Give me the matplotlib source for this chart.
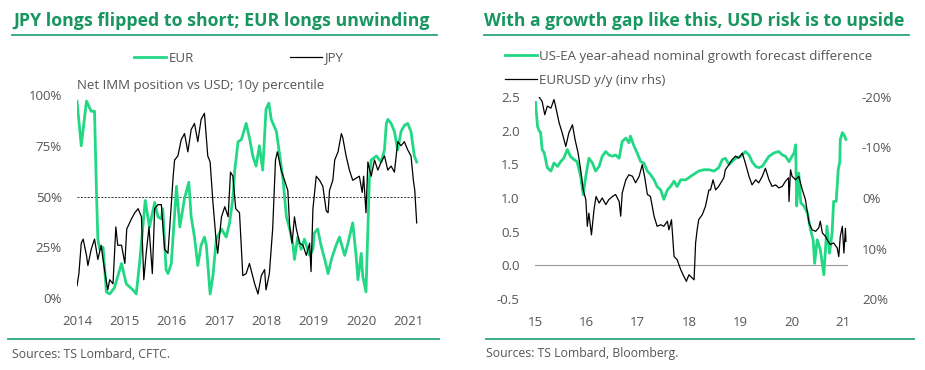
import numpy as np
import matplotlib
matplotlib.use("Agg")
import matplotlib.pyplot as plt
from matplotlib.lines import Line2D

# left panel: net IMM position vs USD, 10y percentile
eur_dates = [2014.00, 2014.09, 2014.20, 2014.30, 2014.37, 2014.41, 2014.44, 2014.48, 2014.55, 2014.62,
             2014.69, 2014.79, 2014.94, 2015.04, 2015.18, 2015.25, 2015.32, 2015.44, 2015.53, 2015.64,
             2015.71, 2015.78, 2015.81, 2015.88, 2015.92, 2015.99, 2016.10, 2016.17, 2016.27, 2016.36,
             2016.41, 2016.48, 2016.55, 2016.62, 2016.69, 2016.73, 2016.81, 2016.87, 2016.94, 2017.05,
             2017.15, 2017.22, 2017.29, 2017.33, 2017.40, 2017.47, 2017.57, 2017.64, 2017.71, 2017.78,
             2017.85, 2017.92, 2017.99, 2018.05, 2018.10, 2018.21, 2018.28, 2018.35, 2018.42, 2018.49,
             2018.56, 2018.59, 2018.66, 2018.73, 2018.80, 2018.91, 2018.98, 2019.01, 2019.08, 2019.15,
             2019.23, 2019.30, 2019.37, 2019.47, 2019.54, 2019.65, 2019.72, 2019.82, 2019.89, 2019.93,
             2020.00, 2020.03, 2020.10, 2020.14, 2020.17, 2020.21, 2020.32, 2020.42, 2020.49, 2020.53,
             2020.56, 2020.63, 2020.70, 2020.77, 2020.84, 2020.91, 2020.98, 2021.05, 2021.12, 2021.17]
eur_pct = [97, 75, 97, 92, 92, 53, 29, 24, 25, 3,
           2, 5, 17, 7, 4, 2, 17, 48, 35, 47,
           40, 39, 44, 14, 12, 17, 55, 35, 49, 57,
           40, 30, 16, 26, 30, 26, 2, 11, 29, 34,
           30, 37, 49, 63, 77, 78, 86, 79, 70, 65,
           75, 63, 93, 96, 88, 82, 70, 58, 40, 34,
           26, 19, 30, 24, 29, 21, 24, 32, 34, 26,
           19, 12, 19, 26, 30, 21, 27, 37, 21, 9,
           22, 11, 3, 34, 58, 68, 70, 67, 73, 86,
           88, 86, 82, 73, 82, 85, 86, 82, 70, 67]

jpy_dates = [2014.00, 2014.04, 2014.09, 2014.13, 2014.20, 2014.23, 2014.30, 2014.37, 2014.44, 2014.51,
             2014.55, 2014.60, 2014.65, 2014.69, 2014.76, 2014.82, 2014.86, 2014.94, 2015.01, 2015.05,
             2015.15, 2015.22, 2015.29, 2015.36, 2015.41, 2015.46, 2015.52, 2015.59, 2015.64, 2015.71,
             2015.78, 2015.85, 2015.92, 2015.97, 2016.03, 2016.06, 2016.13, 2016.20, 2016.27, 2016.34,
             2016.41, 2016.48, 2016.55, 2016.62, 2016.69, 2016.76, 2016.81, 2016.87, 2016.93, 2016.97,
             2017.05, 2017.12, 2017.19, 2017.24, 2017.29, 2017.35, 2017.43, 2017.50, 2017.57, 2017.64,
             2017.75, 2017.82, 2017.89, 2017.96, 2017.99, 2018.06, 2018.13, 2018.19, 2018.23, 2018.31,
             2018.38, 2018.45, 2018.49, 2018.54, 2018.59, 2018.63, 2018.70, 2018.77, 2018.84, 2018.91,
             2018.94, 2018.98, 2019.05, 2019.12, 2019.19, 2019.26, 2019.30, 2019.33, 2019.40, 2019.44,
             2019.51, 2019.58, 2019.61, 2019.68, 2019.75, 2019.82, 2019.89, 2019.96, 2020.02, 2020.05,
             2020.10, 2020.14, 2020.21, 2020.28, 2020.35, 2020.42, 2020.49, 2020.56, 2020.63, 2020.70,
             2020.77, 2020.84, 2020.91, 2020.98, 2021.05, 2021.10, 2021.13, 2021.17]
jpy_pct = [6, 12, 27, 29, 21, 16, 24, 29, 19, 26,
           19, 11, 4, 9, 7, 35, 26, 26, 17, 34,
           39, 42, 44, 40, 9, 22, 35, 12, 44, 46,
           46, 24, 22, 39, 60, 68, 70, 78, 81, 72,
           83, 86, 77, 88, 91, 70, 67, 47, 30, 22,
           40, 45, 40, 62, 60, 44, 42, 11, 12, 17,
           7, 2, 11, 14, 4, 12, 34, 68, 72, 63,
           58, 53, 35, 27, 40, 34, 27, 26, 21, 27,
           13, 44, 60, 58, 55, 43, 42, 53, 58, 68,
           72, 81, 79, 70, 63, 58, 59, 60, 52, 60,
           42, 67, 60, 68, 63, 67, 70, 63, 65, 62,
           77, 75, 77, 73, 70, 58, 53, 37]

# right panel: growth gap (lhs) and EURUSD y/y inverted (rhs)
gap_dates = [15.01, 15.05, 15.08, 15.11, 15.14, 15.18, 15.24, 15.31, 15.37, 15.44,
             15.50, 15.56, 15.63, 15.69, 15.76, 15.82, 15.89, 15.94, 15.99, 16.05,
             16.12, 16.18, 16.25, 16.31, 16.38, 16.44, 16.51, 16.57, 16.64, 16.70,
             16.77, 16.83, 16.86, 16.93, 16.99, 17.06, 17.12, 17.19, 17.25, 17.32,
             17.38, 17.45, 17.51, 17.58, 17.64, 17.71, 17.77, 17.84, 17.94, 18.03,
             18.13, 18.19, 18.29, 18.39, 18.49, 18.58, 18.65, 18.71, 18.78, 18.84,
             18.91, 19.01, 19.10, 19.17, 19.23, 19.30, 19.36, 19.43, 19.49, 19.56,
             19.66, 19.75, 19.82, 19.88, 19.95, 20.01, 20.05, 20.08, 20.10, 20.14,
             20.18, 20.24, 20.31, 20.37, 20.42, 20.45, 20.50, 20.56, 20.63, 20.66,
             20.69, 20.74, 20.79, 20.82, 20.87, 20.91, 20.94, 20.95, 20.99, 21.02,
             21.06]
gap_vals = [2.42, 2.06, 2.00, 1.97, 1.72, 1.67, 1.45, 1.40, 1.52, 1.47,
            1.54, 1.59, 1.72, 1.62, 1.57, 1.54, 1.32, 1.05, 1.32, 1.59,
            1.52, 1.40, 1.47, 1.62, 1.69, 1.64, 1.62, 1.64, 1.59, 1.84,
            1.89, 1.82, 1.92, 1.77, 1.67, 1.54, 1.52, 1.40, 1.35, 1.27,
            1.17, 1.12, 0.98, 1.12, 1.17, 1.25, 1.17, 1.27, 1.27, 1.32,
            1.37, 1.40, 1.42, 1.42, 1.40, 1.45, 1.57, 1.59, 1.50, 1.54,
            1.59, 1.62, 1.69, 1.64, 1.54, 1.47, 1.45, 1.47, 1.54, 1.62,
            1.67, 1.69, 1.64, 1.62, 1.54, 1.62, 1.67, 1.79, 0.88, 1.37,
            0.93, 0.88, 0.78, 0.53, 0.38, 0.03, 0.38, 0.23, -0.14, 0.23,
            0.58, 0.18, 0.48, 0.95, 0.95, 1.42, 1.54, 1.87, 1.97, 1.94,
            1.87]

fx_dates = [15.08, 15.14, 15.19, 15.24, 15.31, 15.37, 15.40, 15.47, 15.53, 15.60,
            15.66, 15.73, 15.78, 15.84, 15.89, 15.94, 15.99, 16.02, 16.05, 16.10,
            16.15, 16.19, 16.25, 16.31, 16.38, 16.44, 16.51, 16.57, 16.64, 16.67,
            16.70, 16.77, 16.83, 16.90, 16.96, 17.03, 17.09, 17.14, 17.19, 17.25,
            17.32, 17.38, 17.45, 17.51, 17.58, 17.61, 17.66, 17.71, 17.77, 17.84,
            17.90, 17.95, 18.00, 18.06, 18.10, 18.13, 18.16, 18.19, 18.26, 18.32,
            18.39, 18.42, 18.47, 18.52, 18.58, 18.68, 18.71, 18.78, 18.84, 18.91,
            18.97, 19.04, 19.10, 19.17, 19.23, 19.30, 19.36, 19.43, 19.49, 19.56,
            19.62, 19.69, 19.75, 19.82, 19.88, 19.94, 19.95, 19.98, 20.01, 20.08,
            20.14, 20.21, 20.27, 20.34, 20.40, 20.47, 20.53, 20.56, 20.60, 20.66,
            20.73, 20.76, 20.82, 20.89, 20.92, 20.95, 20.99, 21.02, 21.05, 21.06]
fx_yoy = [-20.0, -19.1, -16.5, -18.2, -17.8, -19.5, -18.2, -14.9, -12.9, -10.2,
          -12.9, -14.5, -11.6, -8.9, -5.6, -1.6, 0.3, 5.6, 3.0, 7.3,
          2.3, -0.3, 1.0, 0.0, 1.3, 0.3, -0.3, -0.7, 0.7, 3.6,
          -1.0, -3.6, -4.6, -4.3, -3.0, -4.3, -6.6, -4.0, -0.7, -0.3,
          3.6, 5.6, 5.3, 5.6, 4.6, 6.3, 4.3, 11.6, 12.2, 14.2,
          15.5, 16.5, 15.2, 15.8, 16.2, 8.9, 6.3, 4.3, 3.3, 1.7,
          -1.6, -1.6, -3.6, -1.6, -2.3, -4.0, -5.6, -6.6, -7.6, -8.3,
          -7.9, -8.9, -6.9, -4.3, -2.6, -3.6, -3.0, -4.3, -5.9, -3.6,
          -2.3, -2.6, -2.0, -2.3, -3.3, -4.0, 0.7, -5.6, -4.3, -3.6,
          -4.3, -1.6, 0.3, 4.9, 6.3, 6.6, 5.9, 4.6, 6.9, 7.6,
          8.9, 9.2, 8.9, 9.9, 11.6, 7.6, 5.6, 10.9, 6.0, 8.6]

left_xticks = [2014, 2015, 2016, 2017, 2018, 2019, 2020, 2021]
left_yticks = [0, 25, 50, 75, 100]
right_xticks = [15, 16, 17, 18, 19, 20, 21]
right_yticks = [-0.5, 0.0, 0.5, 1.0, 1.5, 2.0, 2.5]
rhs_ticks = [-20, -10, 0, 10, 20]

GREEN = "#22d884"
TITLE_GREEN = "#17965f"
RULE_GREEN = "#27a777"
GREY = "#555555"

plt.rcParams['font.family'] = ['Open Sans', 'DejaVu Sans']

W, H = 925, 370
fig = plt.figure(figsize=(W / 100, H / 100), dpi=100)


def box(x0, y0, x1, y1):
    # pixel box (top-left origin) -> figure fraction
    return [x0 / W, 1 - y1 / H, (x1 - x0) / W, (y1 - y0) / H]


def style_axis(ax):
    for s in ax.spines.values():
        s.set_visible(False)
    ax.tick_params(length=0, labelsize=9.5, labelcolor=GREY)


# ---- left panel
ax1 = fig.add_axes(box(77, 95, 420, 298))
ax1.axhline(50, color="#333333", lw=0.7, ls=(0, (2, 1.5)), zorder=1)
l_eur, = ax1.plot(eur_dates, eur_pct, color=GREEN, lw=2.0, label="EUR", zorder=2)
l_jpy, = ax1.plot(jpy_dates, jpy_pct, color="black", lw=0.9, label="JPY", zorder=3)
ax1.set_xlim(2014.0, 2021.24)
ax1.set_ylim(0, 100)
ax1.set_xticks(left_xticks)
ax1.set_xticklabels([str(y) for y in left_xticks])
ax1.set_yticks(left_yticks)
ax1.set_yticklabels([f"{v}%" for v in left_yticks])
style_axis(ax1)
ax1.tick_params(axis="y", pad=11)
ax1.tick_params(axis="x", pad=12)

fig.legend(handles=[l_eur, l_jpy], loc="center left", bbox_to_anchor=(134 / W, 1 - 58 / H),
           ncol=2, frameon=False, fontsize=9.5, handlelength=2.4, handletextpad=0.2,
           columnspacing=7.3, borderpad=0, borderaxespad=0, labelcolor=GREY)
fig.text(77 / W, 1 - 86 / H, "Net IMM position vs USD; 10y percentile", fontsize=9.5,
         color=GREY, va="center", ha="left")

# ---- right panel
ax2 = fig.add_axes(box(535, 97, 848, 299))
ax2.axhline(0, color="#999999", lw=0.8, zorder=1)
l_gap, = ax2.plot(gap_dates, gap_vals, color=GREEN, lw=2.0, zorder=2,
                  label="US-EA year-ahead nominal growth forecast difference")
ax2.set_xlim(15.0, 21.1)
ax2.set_ylim(-0.5, 2.5)
ax2.set_xticks(right_xticks)
ax2.set_xticklabels([str(y) for y in right_xticks])
ax2.set_yticks(right_yticks)
ax2.set_yticklabels([f"{v:.1f}" for v in right_yticks])
style_axis(ax2)
ax2.tick_params(axis="y", pad=11)
ax2.tick_params(axis="x", pad=12)

ax3 = ax2.twinx()
l_fx, = ax3.plot(fx_dates, fx_yoy, color="black", lw=0.9, zorder=3, label="EURUSD y/y (inv rhs)")
ax3.set_ylim(20, -20)
ax3.set_yticks(rhs_ticks)
ax3.set_yticklabels([f"{v}%" for v in rhs_ticks])
style_axis(ax3)
ax3.tick_params(axis="y", pad=10)

fig.legend(handles=[l_gap, l_fx], loc="upper left", bbox_to_anchor=(505 / W, 1 - 50 / H),
           ncol=1, frameon=False, fontsize=9.5, handlelength=2.4, handletextpad=0.2,
           labelspacing=0.8, borderpad=0, borderaxespad=0, labelcolor=GREY)

# ---- titles, rules, sources
fig.text(13 / W, 1 - 21 / H, "JPY longs flipped to short; EUR longs unwinding", fontsize=12.8,
         fontweight="bold", color=TITLE_GREEN, va="center", ha="left")
fig.text(484 / W, 1 - 21 / H, "With a growth gap like this, USD risk is to upside", fontsize=12.6,
         fontweight="bold", color=TITLE_GREEN, va="center", ha="left")

for x0, x1, y in [(12, 437, 35), (484, 909, 35), (8, 439, 339), (486, 914, 339)]:
    fig.add_artist(Line2D([x0 / W, x1 / W], [1 - y / H, 1 - y / H], color=RULE_GREEN, lw=1.3))

fig.text(12 / W, 1 - 354 / H, "Sources: TS Lombard, CFTC.", fontsize=8.8, color=GREY, va="center")
fig.text(486 / W, 1 - 354 / H, "Sources: TS Lombard, Bloomberg.", fontsize=8.8, color=GREY, va="center")

fig.savefig("out.png", dpi=100, facecolor="white")
